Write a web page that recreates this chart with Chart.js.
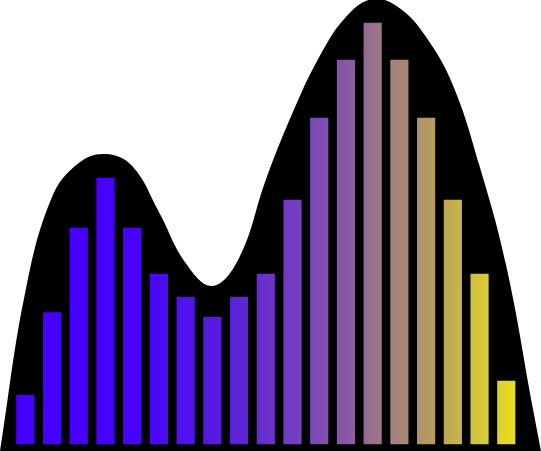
<!DOCTYPE html>
<html>
<head>
<meta charset="utf-8">
<script src="https://cdn.jsdelivr.net/npm/chart.js@4/dist/chart.umd.min.js"></script>
<style>
  html, body { margin: 0; padding: 0; background: #fff; }
  #wrap { width: 541px; height: 451px; position: relative; }
</style>
</head>
<body>
<div id="wrap"><canvas id="chart"></canvas></div>
<script>
// bar positions and heights
const barX = [1, 2, 3, 4, 5, 6, 7, 8, 9, 10, 11, 12, 13, 14, 15, 16, 17, 18, 19];
const barValues = [2.55, 6.67, 10.9, 13.4, 10.9, 8.6, 7.45, 6.45, 7.45, 8.6, 12.3, 16.4, 19.3, 21.15, 19.3, 16.4, 12.3, 8.6, 3.25];

// outline of the black hill behind the bars
const hillX = [0.053, 1, 2, 3, 4, 5, 6, 7, 8, 9, 10, 11, 12, 13, 14, 15, 16, 17, 18, 19, 20, 20.30];
const hillY = [-0.3, 7.65, 12.4, 14.1, 14.55, 13.95, 11.65, 9.1, 7.95, 9.35, 13.25, 16.6, 19.4, 21.4, 22.3, 21.85, 20.4, 18.0, 13.95, 8.95, 1.8, -0.3];

// left-to-right colour ramp for the bars
const rampStops = [0, 0.25, 0.35, 0.45, 0.54, 0.64, 0.69, 0.79, 0.88, 1];
const rampColors = ['rgb(68,0,255)', 'rgb(70,2,252)', 'rgb(82,18,236)', 'rgb(95,36,212)', 'rgb(115,62,195)',
                    'rgb(135,88,165)', 'rgb(153,113,140)', 'rgb(180,152,100)', 'rgb(210,195,60)', 'rgb(245,240,10)'];

function barGradient(context) {
  const area = context.chart.chartArea;
  if (!area) return rampColors[0];
  const g = context.chart.ctx.createLinearGradient(area.left, 0, area.right, 0);
  rampStops.forEach((s, i) => g.addColorStop(s, rampColors[i]));
  return g;
}

new Chart(document.getElementById('chart'), {
  data: {
    datasets: [
      {
        type: 'bar',
        data: barX.map((x, i) => ({ x: x, y: barValues[i] })),
        backgroundColor: barGradient,
        borderColor: 'rgba(0,0,0,0.25)',
        borderWidth: 1,
        borderSkipped: false,
        barThickness: 19.5,
        order: 1
      },
      {
        type: 'line',
        data: hillX.map((x, i) => ({ x: x, y: hillY[i] })),
        backgroundColor: '#000',
        borderColor: '#000',
        borderWidth: 0,
        pointRadius: 0,
        fill: 'start',
        tension: 0.4,
        order: 2
      }
    ]
  },
  options: {
    responsive: true,
    maintainAspectRatio: false,
    animation: false,
    layout: { padding: 0 },
    plugins: { legend: { display: false }, tooltip: { enabled: false } },
    scales: {
      x: { type: 'linear', display: false, offset: false, grid: { offset: false }, min: 0.053, max: 20.30 },
      y: { display: false, min: -0.3, max: 22.25 }
    }
  }
});
</script>
</body>
</html>
